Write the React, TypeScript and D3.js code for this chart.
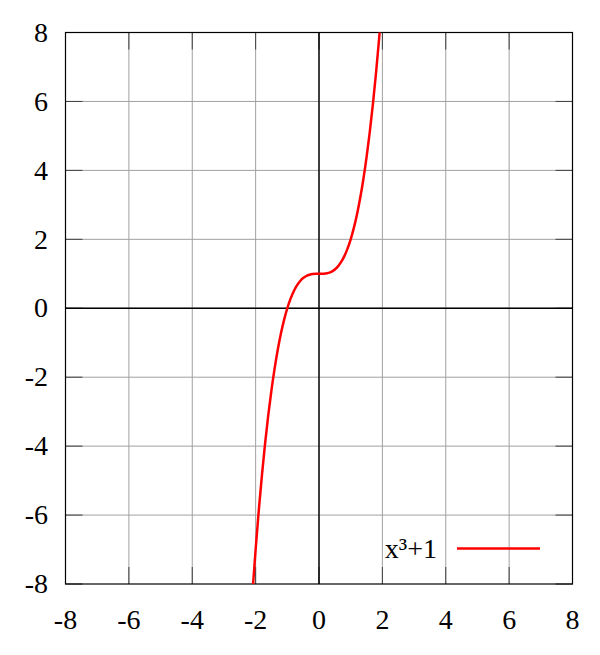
import React from 'react';
import * as d3 from 'd3';

const curveX = [
  -2.1, -2.0, -1.9, -1.8, -1.7, -1.6, -1.5, -1.4, -1.3, -1.2, -1.1, -1.0, -0.9, -0.8, -0.7, -0.6, -0.5,
  -0.4, -0.3, -0.2, -0.1, 0, 0.1, 0.2, 0.3, 0.4, 0.5, 0.6, 0.7, 0.8, 0.9, 1.0, 1.1, 1.2, 1.3, 1.4, 1.5,
  1.6, 1.7, 1.8, 1.9, 2.0, 2.1,
];
const curveY = [
  -8.261, -7, -5.859, -4.832, -3.913, -3.096, -2.375, -1.744, -1.197, -0.728, -0.331, 0, 0.271, 0.488,
  0.657, 0.784, 0.875, 0.936, 0.973, 0.992, 0.999, 1, 1.001, 1.008, 1.027, 1.064, 1.125, 1.216, 1.343,
  1.512, 1.729, 2, 2.331, 2.728, 3.197, 3.744, 4.375, 5.096, 5.913, 6.832, 7.859, 9, 10.261,
];
const xTicks = [-8, -6, -4, -2, 0, 2, 4, 6, 8];
const yTicks = [-8, -6, -4, -2, 0, 2, 4, 6, 8];
const seriesLabel = 'x³+1';

const width = 600;
const height = 655;
const margin = { top: 32.5, right: 27.5, bottom: 71, left: 65.5 };
const textStyle: React.CSSProperties = {
  fontFamily: "'Liberation Serif', 'Times New Roman', serif",
  fontSize: 28,
};

export default function App() {
  const x = d3.scaleLinear().domain([-8, 8]).range([margin.left, width - margin.right]);
  const y = d3.scaleLinear().domain([-8, 8]).range([height - margin.bottom, margin.top]);
  const x0 = x(-8);
  const x1 = x(8);
  const yTop = y(8);
  const yBot = y(-8);
  const tl = 17;

  const points: [number, number][] = curveX.map((d, i) => [d, curveY[i]]);
  const line = d3
    .line<[number, number]>()
    .x(d => x(d[0]))
    .y(d => y(d[1]))
    .curve(d3.curveCatmullRom);

  return (
    <div style={{ position: 'absolute', left: 0, top: 0 }}>
      <svg width={width} height={height} style={{ display: 'block', background: '#fff' }}>
        <defs>
          <clipPath id="plot-clip">
            <rect x={x0} y={yTop} width={x1 - x0} height={yBot - yTop} />
          </clipPath>
        </defs>

        {/* grid */}
        <g stroke="#a0a0a0" strokeWidth={1}>
          {xTicks.slice(1, -1).map(d => (
            <line key={`gx${d}`} x1={x(d)} x2={x(d)} y1={yTop} y2={yBot} />
          ))}
          {yTicks.slice(1, -1).map(d => (
            <line key={`gy${d}`} x1={x0} x2={x1} y1={y(d)} y2={y(d)} />
          ))}
        </g>

        {/* tick marks, inside on all sides */}
        <g stroke="#404040" strokeWidth={1}>
          {xTicks.map(d => (
            <g key={`tx${d}`}>
              <line x1={x(d)} x2={x(d)} y1={yBot} y2={yBot - tl} />
              <line x1={x(d)} x2={x(d)} y1={yTop} y2={yTop + tl} />
            </g>
          ))}
          {yTicks.map(d => (
            <g key={`ty${d}`}>
              <line x1={x0} x2={x0 + tl} y1={y(d)} y2={y(d)} />
              <line x1={x1} x2={x1 - tl} y1={y(d)} y2={y(d)} />
            </g>
          ))}
        </g>

        {/* zero axes */}
        <line x1={x(0)} x2={x(0)} y1={yTop} y2={yBot} stroke="#000" strokeWidth={1.4} />
        <line x1={x0} x2={x1} y1={y(0)} y2={y(0)} stroke="#000" strokeWidth={1.4} />

        {/* border */}
        <rect x={x0} y={yTop} width={x1 - x0} height={yBot - yTop} fill="none" stroke="#000" strokeWidth={1.2} />

        {/* tick labels */}
        {xTicks.map(d => (
          <text key={`lx${d}`} x={x(d)} y={629} textAnchor="middle" fill="#000" style={textStyle}>
            {d}
          </text>
        ))}
        {yTicks.map(d => (
          <text key={`ly${d}`} x={48} y={y(d)} dy="0.33em" textAnchor="end" fill="#000" style={textStyle}>
            {d}
          </text>
        ))}

        {/* curve */}
        <path
          d={line(points) ?? ''}
          clipPath="url(#plot-clip)"
          fill="none"
          stroke="#ff0000"
          strokeWidth={2.5}
        />

        {/* legend */}
        <text x={437} y={558} textAnchor="end" fill="#000" style={textStyle}>
          {seriesLabel}
        </text>
        <line x1={457} x2={540} y1={548.5} y2={548.5} stroke="#ff0000" strokeWidth={2.5} />
      </svg>
    </div>
  );
}
